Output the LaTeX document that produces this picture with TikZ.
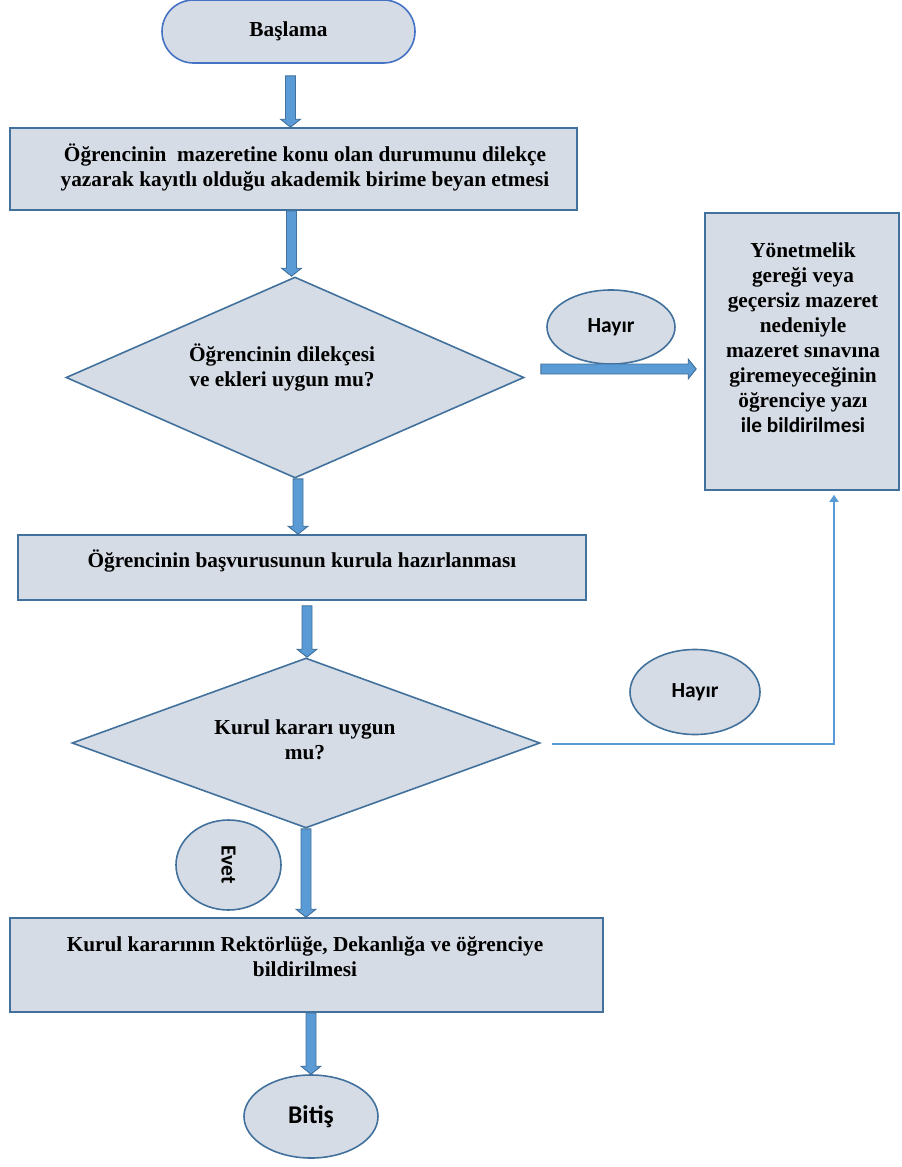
\documentclass[tikz,border=0pt]{standalone}
\usepackage{fontspec}
\setmainfont{Liberation Serif}
\newfontfamily\calfont{Carlito}
\usetikzlibrary{shapes.geometric,shapes.misc,calc,arrows.meta}
\definecolor{boxfill}{HTML}{D6DCE5}
\definecolor{boxline}{HTML}{41719C}
\definecolor{startline}{HTML}{4472C4}
\definecolor{arrfill}{HTML}{5B9BD5}
\definecolor{arrline}{HTML}{41719C}
\newcommand\barrow[2]{%
  \filldraw[draw=arrline, fill=arrfill, line width=0.9pt, line join=miter]
   ($(#1)!5pt!90:(#2)$) --
   ($(#2)!8pt!(#1)!5pt!-90:(#1)$) --
   ($(#2)!8pt!(#1)!10pt!-90:(#1)$) --
   (#2) --
   ($(#2)!8pt!(#1)!10pt!90:(#1)$) --
   ($(#2)!8pt!(#1)!5pt!90:(#1)$) --
   ($(#1)!5pt!-90:(#2)$) -- cycle;}
\tikzset{
  base/.style={draw=boxline, fill=boxfill, line width=1.6pt, inner sep=0pt},
  startshape/.style={base, draw=startline, rounded rectangle, minimum width=253pt, minimum height=63pt},
  procbox/.style={base, rectangle},
  decision/.style={base, diamond},
  oval/.style={base, ellipse},
  txt/.style={align=center, font=\fontsize{21.3}{25}\selectfont\bfseries, inner sep=0pt},
  ctxt/.style={font=\fontsize{21.5}{25}\selectfont\calfont\bfseries},
  thinline/.style={draw=arrfill, line width=1.6pt, -{Triangle[length=7pt,width=9pt]}}
}
\begin{document}
\begin{tikzpicture}[x=1pt,y=-1pt]
\useasboundingbox (0,0) rectangle (902,1167);
% nodes
\node[startshape, txt] (start) at (288.5,31.5) {Başlama};
\node[procbox, minimum width=567pt, minimum height=82pt] (box1) at (293.5,169) {};
\node[txt] (t1) at (305,167.5) {Öğrencinin\ \ mazeretine konu olan durumunu dilekçe\\yazarak kayıtlı olduğu akademik birime beyan etmesi};
\node[decision, minimum width=458pt, minimum height=201pt] (d1) at (295,377.5) {};
\node[txt] (t2) at (282,367) {Öğrencinin dilekçesi\\ve ekleri uygun mu?};
\node[oval, ctxt, minimum width=128pt, minimum height=74pt] (h1) at (611,327) {Hayır};
\node[procbox, minimum width=194pt, minimum height=277pt] (rbox) at (802,351.5) {};
\node[txt] (t3) at (803,338) {Yönetmelik\\gereği veya\\geçersiz mazeret\\nedeniyle\\mazeret sınavına\\giremeyeceğinin\\öğrenciye yazı\\{\calfont ile bildirilmesi}};
\node[procbox, minimum width=568pt, minimum height=65pt] (box2) at (302,567.5) {};
\node[txt] (t4) at (302,561) {Öğrencinin başvurusunun kurula hazırlanması};
\node[decision, minimum width=468pt, minimum height=170pt] (d2) at (306,743) {};
\node[txt] (t5) at (305,739.5) {Kurul kararı uygun\\mu?};
\node[oval, ctxt, minimum width=130pt, minimum height=85pt] (h2) at (695,692) {Hayır};
\node[oval, ctxt, rotate=-90, minimum width=90pt, minimum height=105pt] (ev) at (228.5,865) {Evet};
\node[procbox, minimum width=593pt, minimum height=94pt] (box3) at (306.5,965) {};
\node[txt] (t6) at (305,957) {Kurul kararının Rektörlüğe, Dekanlığa ve öğrenciye\\bildirilmesi};
\node[oval, ctxt, font=\fontsize{25.5}{30}\selectfont\calfont\bfseries, minimum width=134pt, minimum height=83pt] (end) at (311,1116.5) {Bitiş};
% connector end points
\path (start.south) ++(2,12) coordinate (a1s);
\coordinate (a1e) at (a1s |- box1.north);
\path (box1.south) ++(-2,0) coordinate (a2s);
\coordinate (a2e) at (a2s |- d1.north);
\path (d1.south) ++(3,0) coordinate (a3s);
\coordinate (a3e) at (a3s |- box2.north);
\path (box2.south) ++(5,5) coordinate (a4s);
\coordinate (a4e) at (a4s |- d2.north);
\path (d2.south) ++(0,0) coordinate (a5s);
\coordinate (a5e) at (a5s |- box3.north);
\path (box3.south) ++(4.5,0) coordinate (a6s);
\coordinate (a6e) at (a6s |- end.north);
\path (d1.east) ++(16,-8.5) coordinate (hs);
\path (rbox.west |- hs) ++(-8,0) coordinate (he);
% block arrows
\barrow{a1s}{a1e}
\barrow{a2s}{a2e}
\barrow{a3s}{a3e}
\barrow{a4s}{a4e}
\barrow{a5s}{a5e}
\barrow{a6s}{a6e}
\barrow{hs}{he}
% thin connector
\path (d2.east) ++(11,1) coordinate (ls);
\path (rbox.south) ++(32,4) coordinate (le);
\draw[thinline] (ls) -| (le);
\end{tikzpicture}
\end{document}
